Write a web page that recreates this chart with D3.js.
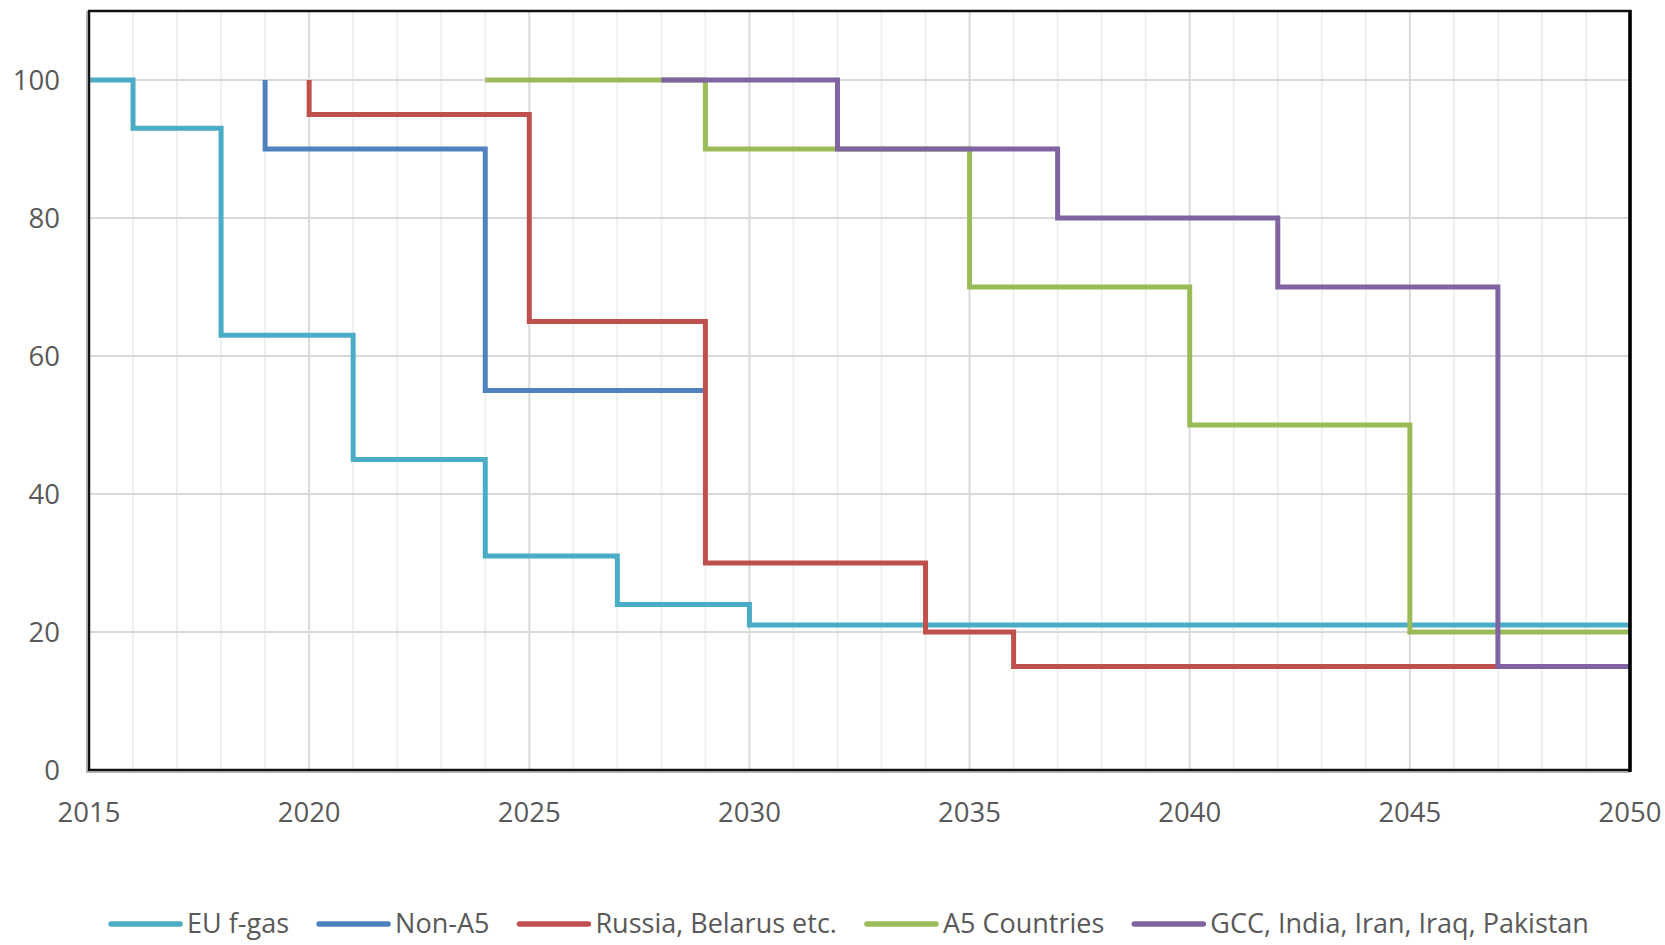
<!DOCTYPE html>
<html>
<head>
<meta charset="utf-8">
<script src="https://cdn.jsdelivr.net/npm/d3@7"></script>
<style>
  body { margin: 0; background: #fff; }
  text { font-family: "Open Sans", "Noto Sans", sans-serif; fill: #595959; }
</style>
</head>
<body>
<div id="chart"></div>
<script>
// data (phase-down steps, % of baseline)
var seriesNames = ["EU f-gas", "Non-A5", "Russia, Belarus etc.", "A5 Countries", "GCC, India, Iran, Iraq, Pakistan"];
var euYears = [2015, 2016, 2018, 2021, 2024, 2027, 2030, 2050];
var euValues = [100, 93, 63, 45, 31, 24, 21, 21];
var nonA5Years = [2019, 2019, 2024, 2029];
var nonA5Values = [100, 90, 55, 55];
var russiaYears = [2020, 2020, 2025, 2029, 2034, 2036, 2050];
var russiaValues = [100, 95, 65, 30, 20, 15, 15];
var a5Years = [2024, 2029, 2035, 2040, 2045, 2050];
var a5Values = [100, 90, 70, 50, 20, 20];
var gccYears = [2028, 2032, 2037, 2042, 2047, 2050];
var gccValues = [100, 90, 80, 70, 15, 15];
var xTicks = [2015, 2020, 2025, 2030, 2035, 2040, 2045, 2050];
var yTicks = [0, 20, 40, 60, 80, 100];

var colors = ["#4BACC6", "#4F81BD", "#C0504D", "#9BBB59", "#8064A2"];

var W = 1665, H = 945;
var margin = {top: 11, right: 35, bottom: 175, left: 89},
    width = W - margin.left - margin.right,
    height = H - margin.top - margin.bottom;

var svg = d3.select("#chart")
  .append("svg")
    .attr("width", W)
    .attr("height", H);

var g = svg.append("g")
    .attr("transform", "translate(" + margin.left + "," + margin.top + ")");

var x = d3.scaleLinear().domain([2015, 2050]).range([0, width]);
var y = d3.scaleLinear().domain([0, 110]).range([height, 0]);

// minor vertical grid (every year)
g.append("g")
  .selectAll("line")
  .data(d3.range(2016, 2050).filter(function(d) { return d % 5 !== 0; }))
  .enter().append("line")
    .attr("x1", function(d) { return x(d); })
    .attr("x2", function(d) { return x(d); })
    .attr("y1", 0).attr("y2", height)
    .attr("stroke", "#efefef").attr("stroke-width", 2);

// major vertical grid
g.append("g")
  .selectAll("line")
  .data(xTicks.slice(1, -1))
  .enter().append("line")
    .attr("x1", function(d) { return x(d); })
    .attr("x2", function(d) { return x(d); })
    .attr("y1", 0).attr("y2", height)
    .attr("stroke", "#d9d9d9").attr("stroke-width", 2);

// horizontal grid
g.append("g")
  .selectAll("line")
  .data(yTicks.slice(1))
  .enter().append("line")
    .attr("x1", 0).attr("x2", width)
    .attr("y1", function(d) { return y(d); })
    .attr("y2", function(d) { return y(d); })
    .attr("stroke", "#d9d9d9").attr("stroke-width", 2);

// step lines
var seriesData = [
  d3.zip(euYears, euValues),
  d3.zip(nonA5Years, nonA5Values),
  d3.zip(russiaYears, russiaValues),
  d3.zip(a5Years, a5Values),
  d3.zip(gccYears, gccValues)
];

var line = d3.line()
  .curve(d3.curveStepAfter)
  .x(function(d) { return x(d[0]); })
  .y(function(d) { return y(d[1]); });

g.append("g")
  .selectAll("path")
  .data(seriesData)
  .enter().append("path")
    .attr("d", line)
    .attr("fill", "none")
    .attr("stroke", function(d, i) { return colors[i]; })
    .attr("stroke-width", 5)
    .attr("stroke-linejoin", "miter");

// plot border: black frame with a grey edge on left/bottom
g.append("rect")
  .attr("x", 0).attr("y", 0)
  .attr("width", width).attr("height", height)
  .attr("fill", "none")
  .attr("stroke", "#111").attr("stroke-width", 2.5);
g.append("path")
  .attr("d", "M-2,0V" + (height + 2) + "H" + width)
  .attr("fill", "none")
  .attr("stroke", "#9a9a9a").attr("stroke-width", 1.5);
g.append("line")
  .attr("x1", width).attr("x2", width)
  .attr("y1", -1).attr("y2", height + 2)
  .attr("stroke", "#000").attr("stroke-width", 3.5);

// axis labels
g.append("g")
  .selectAll("text")
  .data(yTicks)
  .enter().append("text")
    .attr("x", -29)
    .attr("y", function(d) { return y(d); })
    .attr("dy", "0.36em")
    .attr("text-anchor", "end")
    .style("font-size", "27.5px")
    .text(function(d) { return d; });

g.append("g")
  .selectAll("text")
  .data(xTicks)
  .enter().append("text")
    .attr("x", function(d) { return x(d); })
    .attr("y", height + 42)
    .attr("dy", "0.36em")
    .attr("text-anchor", "middle")
    .style("font-size", "27.5px")
    .text(function(d) { return d; });

// legend
var legend = svg.append("g");
var items = legend.selectAll("g")
  .data(seriesNames)
  .enter().append("g");
items.append("line")
  .attr("x1", 0).attr("x2", 69)
  .attr("y1", 0).attr("y2", 0)
  .attr("stroke", function(d, i) { return colors[i]; })
  .attr("stroke-width", 5.5)
  .attr("stroke-linecap", "round");
items.append("text")
  .attr("x", 76)
  .attr("dy", "0.34em")
  .style("font-size", "27px")
  .text(function(d) { return d; });

var pos = 0;
items.each(function() {
  var w = 76 + this.querySelector("text").getComputedTextLength();
  d3.select(this).attr("transform", "translate(" + pos + ",0)");
  pos += w + 30;
});
var total = pos - 30;
legend.attr("transform", "translate(" + (850 - total / 2) + ",924)");
</script>
</body>
</html>
